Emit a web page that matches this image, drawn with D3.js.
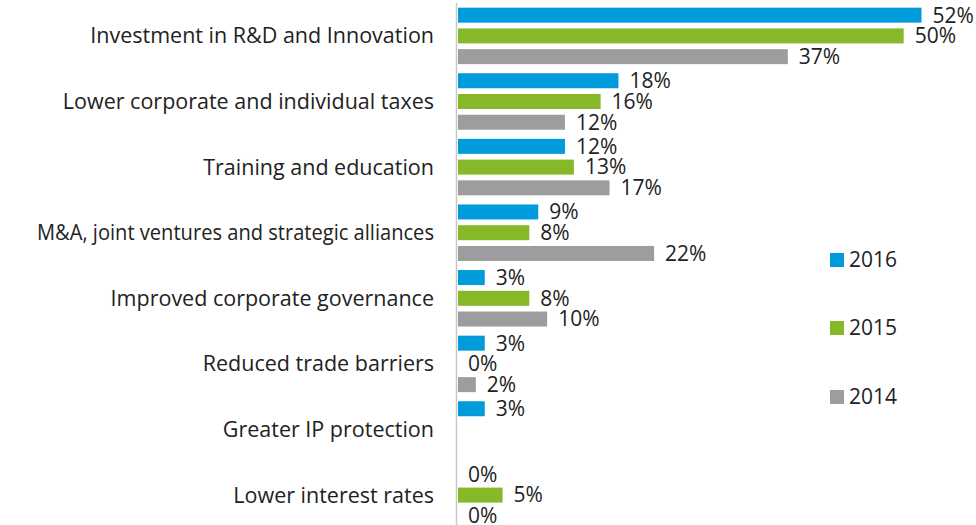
<!DOCTYPE html>
<html>
<head>
<meta charset="utf-8">
<script src="https://cdn.jsdelivr.net/npm/d3@7"></script>
<style>
  body { margin: 0; background: #fff; }
  svg { display: block; font-family: "Open Sans", sans-serif; }
</style>
</head>
<body>
<div id="chart"></div>
<script>
"use strict";

// categories, top to bottom
const categories = [
    "Investment in R&D and Innovation",
    "Lower corporate and individual taxes",
    "Training and education",
    "M&A, joint ventures and strategic alliances",
    "Improved corporate governance",
    "Reduced trade barriers",
    "Greater IP protection",
    "Lower interest rates"
];

// series, null = no answer that year
const years = ["2016", "2015", "2014"];
const values2016 = [52, 18, 12, 9, 3, 3, 3, 0];
const values2015 = [50, 16, 13, 8, 8, 0, null, 5];
const values2014 = [37, 12, 17, 22, 10, 2, null, 0];
const colors = ["#009bdb", "#86b828", "#9d9d9d"];

const width = 976, height = 525;
const x0 = 458;
const labelRight = 434;
const labelMaxWidth = 397;

const series = [values2016, values2015, values2014];

const svg = d3.select("#chart").append("svg")
    .attr("width", width)
    .attr("height", height);

// scales
const x = d3.scaleLinear().domain([0, 52]).range([x0, 921.5]);
const y = d3.scaleBand().domain(categories).range([3.1, 527.9])
    .paddingInner(0.139).paddingOuter(0.0695);
const yInner = d3.scaleBand().domain(years).range([0, y.bandwidth()]).paddingInner(0.277);

// axis line
svg.append("line")
    .attr("x1", 456.5).attr("x2", 456.5)
    .attr("y1", 3).attr("y2", height)
    .attr("stroke", "#c8c8c8")
    .attr("stroke-width", 1.5);

// category labels
svg.append("g")
    .selectAll("text")
    .data(categories)
    .join("text")
    .attr("x", labelRight)
    .attr("y", d => y(d) + y.bandwidth() / 2)
    .attr("dy", "0.35em")
    .attr("text-anchor", "end")
    .attr("font-size", 21.5)
    .attr("fill", "#222")
    .text(d => d)
    .each(function () {
        // the long label is squeezed in the original
        if (this.getComputedTextLength() > labelMaxWidth) {
            d3.select(this)
                .attr("textLength", labelMaxWidth)
                .attr("lengthAdjust", "spacingAndGlyphs");
        }
    });

// bars and value labels
years.forEach((yr, s) => {
    const rows = categories.map((c, i) => ({ c: c, v: series[s][i] }))
        .filter(d => d.v !== null);

    svg.append("g")
        .selectAll("rect")
        .data(rows)
        .join("rect")
        .attr("x", x0)
        .attr("y", d => y(d.c) + yInner(yr))
        .attr("width", d => x(d.v) - x0)
        .attr("height", yInner.bandwidth())
        .attr("fill", colors[s]);

    svg.append("g")
        .selectAll("text")
        .data(rows)
        .join("text")
        .attr("x", d => x(d.v) + (d.v > 0 ? 11 : 10))
        .attr("y", d => y(d.c) + yInner(yr) + yInner.bandwidth() / 2)
        .attr("dy", "0.35em")
        .attr("font-size", 21)
        .attr("fill", "#222")
        .text(d => d.v + "%");
});

// legend
const legendY = [260, 328, 397];
const legend = svg.append("g")
    .selectAll("g")
    .data(years)
    .join("g")
    .attr("transform", (d, i) => `translate(830,${legendY[i]})`);

legend.append("rect")
    .attr("x", 0).attr("y", -7)
    .attr("width", 14).attr("height", 14)
    .attr("fill", (d, i) => colors[i]);

legend.append("text")
    .attr("x", 19)
    .attr("dy", "0.35em")
    .attr("font-size", 21)
    .attr("fill", "#222")
    .text(d => d);
</script>
</body>
</html>
